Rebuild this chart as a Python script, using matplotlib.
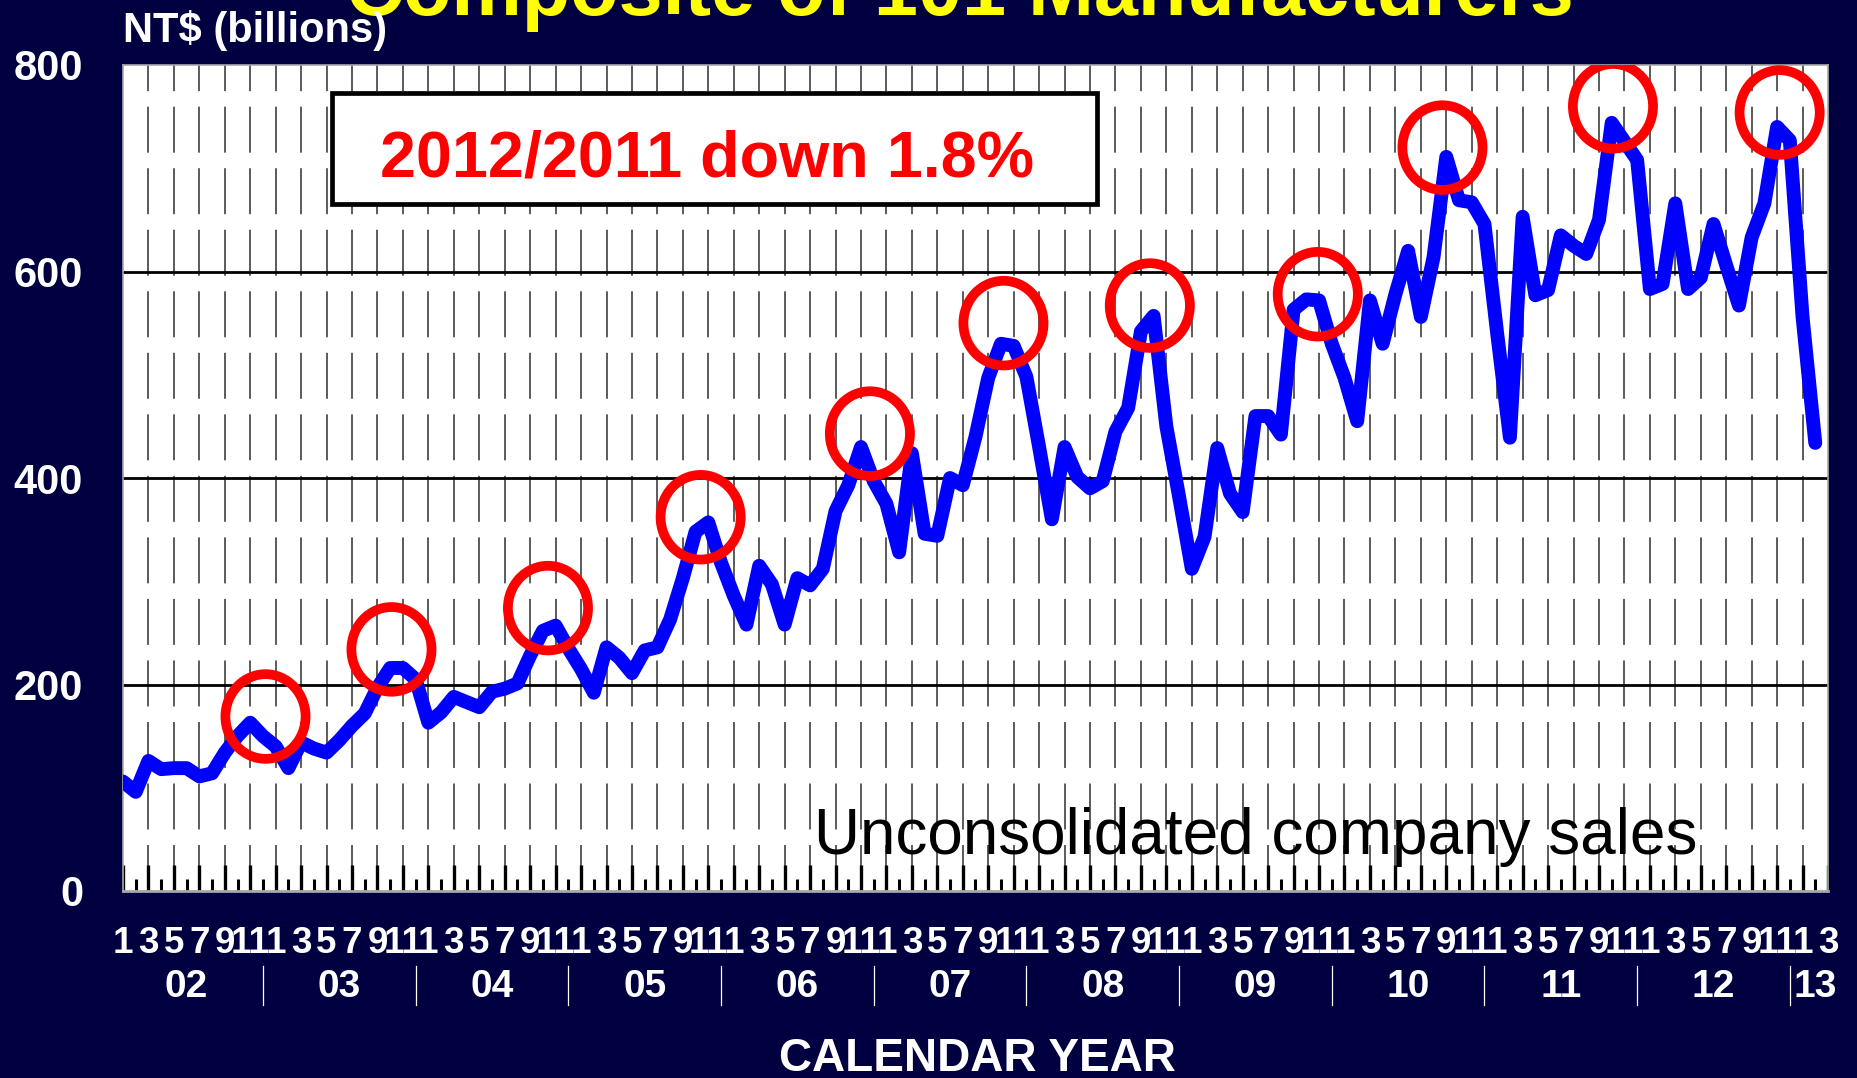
import matplotlib
matplotlib.use("Agg")
import matplotlib.pyplot as plt
from matplotlib.patches import Ellipse, Rectangle
import numpy as np

plt.rcParams['font.family'] = ['Liberation Sans', 'DejaVu Sans']
plt.rcParams['lines.scale_dashes'] = False

# ---------------- data ----------------
years = ['02', '03', '04', '05', '06', '07', '08', '09', '10', '11', '12', '13']
month_labels = ['1', '3', '5', '7', '9', '11']

sales_2002 = [106, 96, 126, 118, 119, 119, 111, 114, 134, 150, 163, 150]
sales_2003 = [140, 119, 144, 138, 134, 146, 160, 172, 197, 216, 216, 205]
sales_2004 = [163, 173, 188, 183, 178, 193, 196, 201, 228, 252, 257, 235]
sales_2005 = [215, 192, 236, 226, 211, 233, 236, 263, 303, 348, 357, 318]
sales_2006 = [286, 258, 315, 297, 258, 303, 296, 312, 368, 393, 430, 397]
sales_2007 = [375, 328, 424, 346, 344, 400, 393, 440, 497, 530, 528, 498]
sales_2008 = [430, 360, 430, 401, 390, 397, 445, 468, 542, 557, 450, 382]
sales_2009 = [312, 343, 429, 385, 367, 460, 460, 442, 563, 573, 572, 530]
sales_2010 = [497, 455, 572, 530, 578, 620, 556, 614, 711, 669, 667, 646]
sales_2011 = [540, 439, 653, 577, 582, 635, 625, 617, 650, 744, 726, 708]
sales_2012 = [583, 588, 666, 583, 594, 646, 606, 567, 633, 666, 740, 727]
sales_2013 = [556, 434]

# peaks that are circled (month index, value at circle centre)
circle_x = [11.2, 21.1, 33.4, 45.4, 58.7, 69.2, 80.7, 93.9, 103.7, 117.1, 130.2]
circle_y = [169, 234, 274, 362, 443, 550, 567, 578, 720, 760, 754]

sales = (sales_2002 + sales_2003 + sales_2004 + sales_2005 + sales_2006 + sales_2007
         + sales_2008 + sales_2009 + sales_2010 + sales_2011 + sales_2012 + sales_2013)
months = np.arange(len(sales))
n_axis = 135  # Jan 2002 .. Mar 2013

# ---------------- figure ----------------
W, H = 1858, 1078
navy = '#000040'
fig = plt.figure(figsize=(W / 100, H / 100), dpi=100, facecolor=navy)

L, R, T, B = 123, 1828, 65, 891
ax = fig.add_axes([L / W, 1 - B / H, (R - L) / W, (B - T) / H])
ax.set_facecolor('white')
ax.set_xlim(0, n_axis - 1)
ax.set_ylim(0, 800)

for s in ax.spines.values():
    s.set_color('#a8a8a8')
    s.set_linewidth(1.2)
ax.spines['bottom'].set_linewidth(2.0)

# vertical dashed gridlines every 2 months
for x in range(2, n_axis - 1, 2):
    ax.axvline(x, color='#404040', lw=1.2, dashes=(33.1, 11.2), zorder=1)
# horizontal gridlines
for y in (200, 400, 600):
    ax.axhline(y, color='black', lw=2.0, zorder=1.5)

# ticks
ax.set_xticks(np.arange(0, n_axis, 2))
ax.set_xticks(np.arange(1, n_axis, 2), minor=True)
ax.tick_params(axis='x', which='major', direction='in', length=18.7, width=2.4,
               color='black', labelbottom=False)
ax.tick_params(axis='x', which='minor', direction='in', length=8.6, width=2.2,
               color='black')
ax.set_yticks([0, 200, 400, 600, 800])
ax.tick_params(axis='y', length=0, pad=28.8, labelsize=30, labelcolor='white')
for lab in ax.get_yticklabels():
    lab.set_fontweight('bold')

# data line
ax.plot(months, sales, color='#0000FF', lw=10, solid_joinstyle='round',
        solid_capstyle='round', zorder=3)

# red circles
for cx, cy in zip(circle_x, circle_y):
    ax.add_patch(Ellipse((cx, cy), 6.3, 82, fill=False, edgecolor='#FF0000',
                         lw=7, zorder=4))

# month labels
xt = ax.get_xaxis_transform()
for i in range(0, n_axis, 2):
    ax.text(i, (B - 953.4) / (B - T), month_labels[(i % 12) // 2], transform=xt,
            ha='center', va='baseline', color='white', fontsize=26.5,
            fontweight='bold', clip_on=False)
# year labels and separators
for k, yr in enumerate(years):
    xc = 12 * k + 5 if k < len(years) - 1 else 133
    ax.text(xc, (B - 997) / (B - T), yr, transform=xt, ha='center', va='baseline',
            color='white', fontsize=28, fontweight='bold', clip_on=False)
for k in range(len(years) - 1):
    ax.plot([12 * k + 11] * 2, [(B - 966) / (B - T), (B - 1005) / (B - T)],
            transform=xt, color='white', lw=0.9, clip_on=False)

# text box
ax.add_patch(Rectangle((332.3 / W, 1 - 203.7 / H), 764.4 / W, 110.4 / H,
                       transform=fig.transFigure, facecolor='white',
                       edgecolor='black', lw=3.4, zorder=5))
fig.text(380 / W, 1 - 176.7 / H, '2012/2011 down 1.8%', color='#FF0000',
         fontsize=46.5, fontweight='bold', ha='left', va='baseline', zorder=6)

fig.text(814 / W, 1 - 854 / H, 'Unconsolidated company sales', color='black',
         fontsize=46, ha='left', va='baseline', zorder=6)

# titles / labels
fig.text(960 / W, 1 - 15 / H, 'Composite of 101 Manufacturers', color='#FFFF00',
         fontsize=57, fontweight='bold', ha='center', va='baseline')
fig.text(123 / W, 1 - 41.7 / H, 'NT$ (billions)', color='white', fontsize=30,
         fontweight='bold', ha='left', va='baseline')
fig.text(977 / W, 1 - 1071 / H, 'CALENDAR YEAR', color='white', fontsize=33,
         fontweight='bold', ha='center', va='baseline')

fig.savefig('out.png', dpi=100, facecolor=navy)
